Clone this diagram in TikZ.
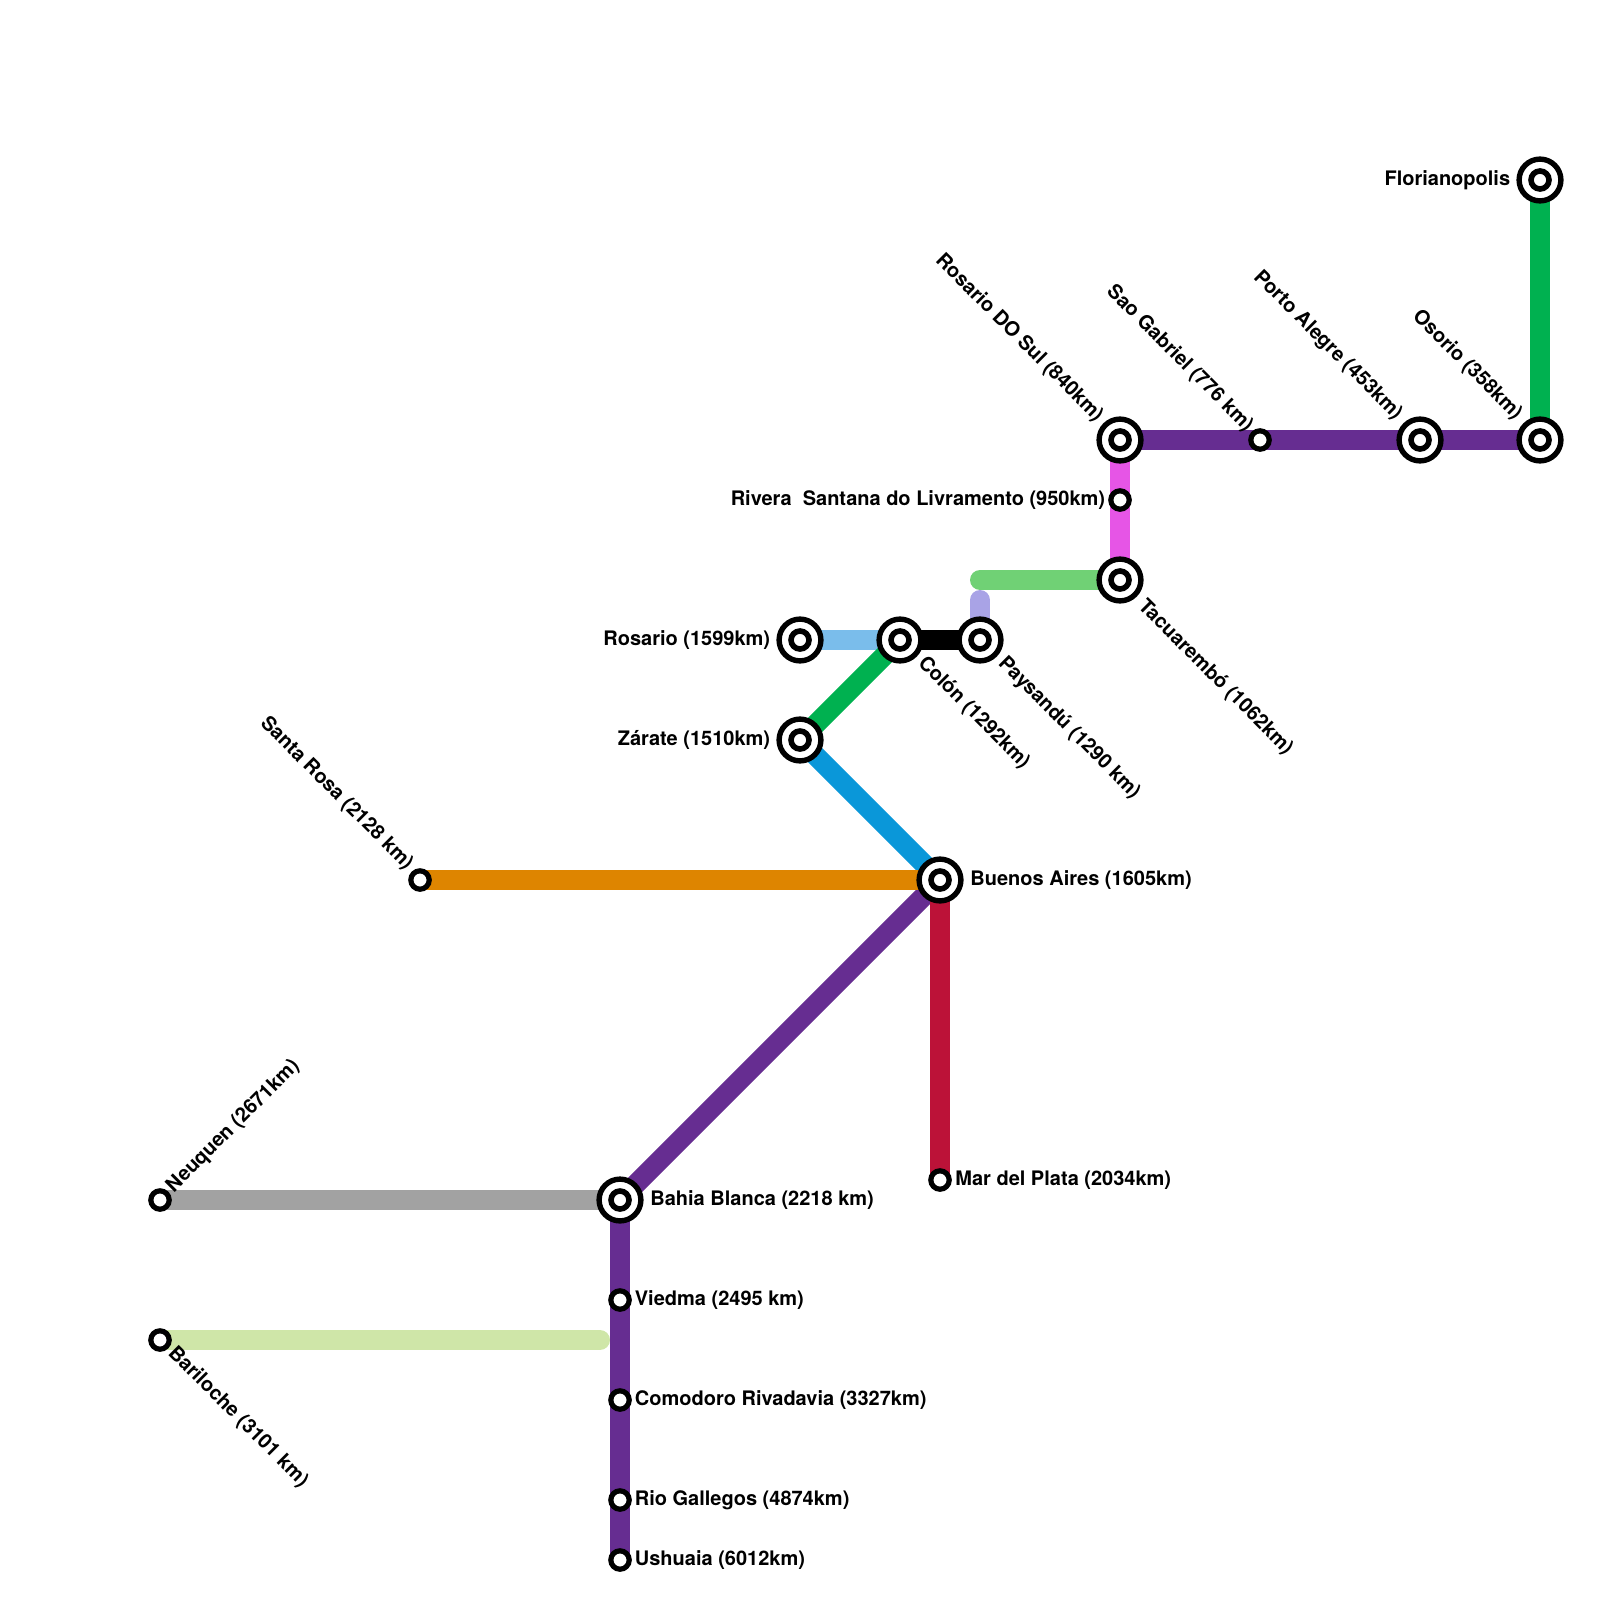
\documentclass[tikz,border=0pt]{standalone}
\usepackage{fontspec}
\setmainfont{TeX Gyre Heros}
\definecolor{routepurple}{RGB}{102, 45, 145}
\definecolor{routegreen}{RGB}{0, 177, 80}
\definecolor{routemagenta}{RGB}{230, 85, 230}
\definecolor{routemint}{RGB}{112, 209, 117}
\definecolor{routelilac}{RGB}{169, 163, 230}
\definecolor{routesky}{RGB}{122, 189, 235}
\definecolor{routeblue}{RGB}{10, 151, 217}
\definecolor{routeorange}{RGB}{222, 133, 0}
\definecolor{routecrimson}{RGB}{188, 18, 56}
\definecolor{routegray}{RGB}{162, 162, 162}
\definecolor{routepale}{RGB}{207, 230, 168}
\usetikzlibrary{backgrounds}
\tikzset{
  % Interchange: thick ring with a second ring inside.
  stn-big/.style={
    circle, draw=black, line width=2.7pt,
    fill=white, inner sep=0pt, minimum size=20.9pt,
    path picture={\draw[black, line width=2.8pt]
      (path picture bounding box.center) circle (4.5pt);},
  },
  % Plain stop.
  stn-small/.style={
    circle, draw=black, line width=2.6pt,
    fill=white, inner sep=0pt, minimum size=9.2pt,
  },
  % Route segment (#1 = colour).
  route/.style={draw=#1, line width=10pt},
  % Station names.
  stn-label/.style={font=\bfseries, text=black, inner sep=0pt},
  stn-label-up/.style={stn-label, rotate=-45, anchor=east},
  stn-label-down/.style={stn-label, rotate=-45, anchor=west},
}
\begin{document}
\begin{tikzpicture}[x=0.5pt, y=-0.5pt]
  \useasboundingbox (0,0) rectangle (1600,1600);

  % Interchanges.
  \node[stn-big] (florianopolis) at (1540, 180) {};
  \node[stn-big] (osorio)        at (1540, 440) {};
  \node[stn-big] (portoalegre)   at (1420, 440) {};
  \node[stn-big] (rosariosul)    at (1120, 440) {};
  \node[stn-big] (tacuarembo)    at (1120, 580) {};
  \node[stn-big] (paysandu)      at ( 980, 640) {};
  \node[stn-big] (colon)         at ( 900, 640) {};
  \node[stn-big] (rosario)       at ( 800, 640) {};
  \node[stn-big] (zarate)        at ( 800, 740) {};
  \node[stn-big] (baires)        at ( 940, 880) {};
  \node[stn-big] (bahia)         at ( 620,1200) {};

  % Plain stops.
  \node[stn-small] (saogabriel)  at (1260, 440) {};
  \node[stn-small] (rivera)      at (1120, 500) {};
  \node[stn-small] (santarosa)   at ( 420, 880) {};
  \node[stn-small] (mardelplata) at ( 940,1180) {};
  \node[stn-small] (neuquen)     at ( 160,1200) {};
  \node[stn-small] (bariloche)   at ( 160,1340) {};
  \node[stn-small] (viedma)      at ( 620,1300) {};
  \node[stn-small] (comodoro)    at ( 620,1400) {};
  \node[stn-small] (gallegos)    at ( 620,1500) {};
  \node[stn-small] (ushuaia)     at ( 620,1560) {};

  % Free line ends.
  \coordinate (mintend)  at (980, 580);
  \coordinate (lilacend) at (980, 600);
  \coordinate (paleend)  at (600,1340);

  % Routes go under the stations.
  \begin{scope}[on background layer]
    \draw[route=routegreen]   (florianopolis.center) -- (osorio.center);
    \draw[route=routepurple]  (rosariosul.center) -- (saogabriel.center) -- (portoalegre.center) -- (osorio.center);
    \draw[route=routemagenta] (rosariosul.center) -- (rivera.center) -- (tacuarembo.center);
    \draw[route=routemint, line cap=round]  (mintend) -- (tacuarembo.center);
    \draw[route=routelilac, line cap=round] (lilacend) -- (paysandu.center);
    \draw[route=routesky]     (rosario.center) -- (colon.center);
    \draw[route=black]        (colon.center) -- (paysandu.center);
    \draw[route=routegreen]   (zarate.center) -- (colon.center);
    \draw[route=routeblue]    (zarate.center) -- (baires.center);
    \draw[route=routepurple]  (baires.center) -- (bahia.center);
    \draw[route=routecrimson] (baires.center) -- (mardelplata.center);
    \draw[route=routeorange]  (santarosa.center) -- (baires.center);
    \draw[route=routegray]    (neuquen.center) -- (bahia.center);
    \draw[route=routepale, line cap=round] (bariloche.center) -- (paleend);
    \draw[route=routepurple]  (bahia.center) -- (viedma.center) -- (comodoro.center) -- (gallegos.center) -- (ushuaia.center);
  \end{scope}

  % Names, level.
  \node[stn-label, anchor=east] (lblflorianopolis) at (1510.5, 180) {Florianopolis};
  \node[stn-label, anchor=east] (lblrivera)  at (1105.5, 500) {Rivera\ \ Santana do Livramento (950km)};
  \node[stn-label, anchor=east] (lblrosario) at ( 770.5, 640) {Rosario (1599km)};
  \node[stn-label, anchor=east] (lblzarate)  at ( 770.5, 740) {Zárate (1510km)};
  \node[stn-label, anchor=west] (lblbaires)  at ( 970, 880) {Buenos Aires (1605km)};
  \node[stn-label, anchor=west] (lblbahia)   at ( 650,1200) {Bahia Blanca (2218 km)};
  \node[stn-label, anchor=west] (lblmar)     at ( 955,1180) {Mar del Plata (2034km)};
  \node[stn-label, anchor=west] (lblviedma)  at ( 634.5,1300) {Viedma (2495 km)};
  \node[stn-label, anchor=west] (lblcomodoro) at ( 634.5,1400) {Comodoro Rivadavia (3327km)};
  \node[stn-label, anchor=west] (lblgallegos) at ( 634.5,1500) {Rio Gallegos (4874km)};
  \node[stn-label, anchor=west] (lblushuaia) at ( 634.5,1560) {Ushuaia (6012km)};

  % Names, slanted.
  \node[stn-label-up] (lblrosariosul)  at (1100, 419) {Rosario DO Sul (840km)};
  \node[stn-label-up] (lblsaogabriel)  at (1250, 429) {Sao Gabriel (776 km)};
  \node[stn-label-up] (lblportoalegre) at (1399, 417) {Porto Alegre (453km)};
  \node[stn-label-up] (lblosorio)      at (1519, 417) {Osorio (358km)};
  \node[stn-label-up] (lblsantarosa)   at ( 410, 867) {Santa Rosa (2128 km)};
  \node[stn-label-down] (lbltacuarembo) at (1141, 603) {Tacuarembó (1062km)};
  \node[stn-label-down] (lblcolon)      at ( 921, 660) {Colón (1292km)};
  \node[stn-label-down] (lblpaysandu)   at (1001, 660) {Paysandú (1290 km)};
  \node[stn-label-down] (lblbariloche)  at ( 171,1350) {Bariloche (3101 km)};
  \node[stn-label, rotate=45, anchor=west] (lblneuquen) at ( 170,1190) {Neuquen (2671km)};
\end{tikzpicture}
\end{document}
